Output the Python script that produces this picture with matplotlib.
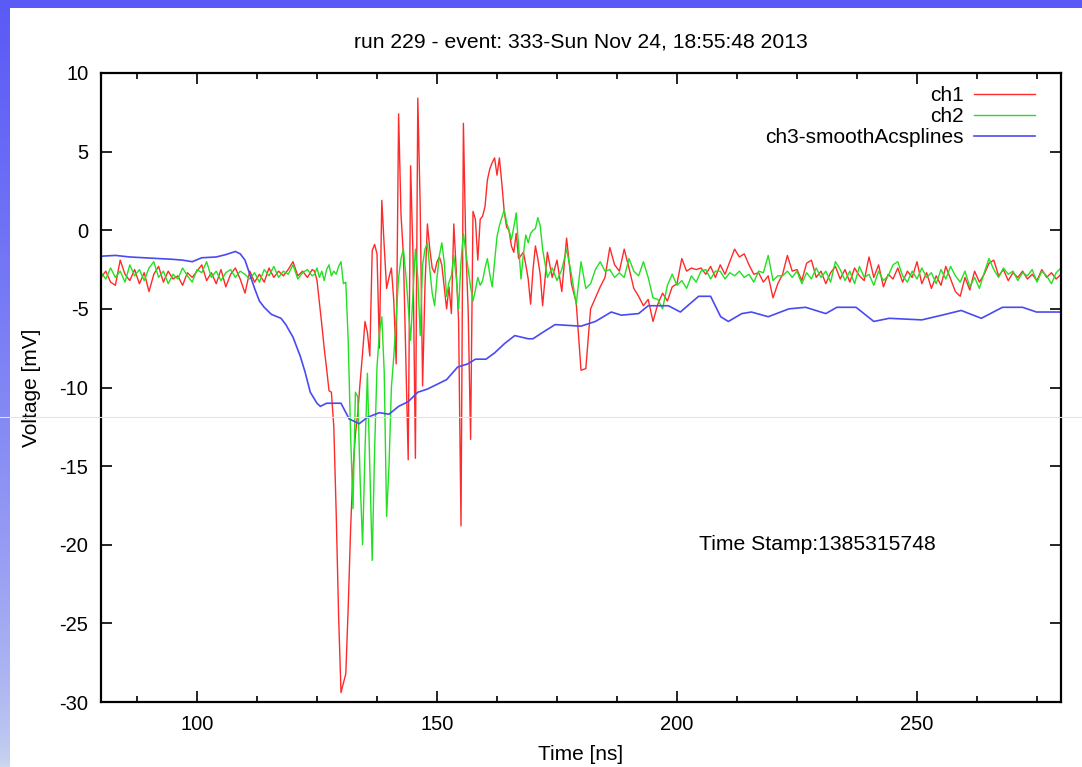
import numpy as np
import matplotlib
matplotlib.use("Agg")
import matplotlib.pyplot as plt
from matplotlib.ticker import MultipleLocator
from matplotlib.lines import Line2D

plt.rcParams['font.family'] = ['Liberation Sans', 'DejaVu Sans']
plt.rcParams['axes.unicode_minus'] = False

title = "run 229 - event: 333-Sun Nov 24, 18:55:48 2013"
stamp = "Time Stamp:1385315748"
labels = ["ch1", "ch2", "ch3-smoothAcsplines"]

# ---- ch1 (red) ----
ch1_pre = [-3.0, -2.6, -3.3, -3.5, -1.9, -2.8, -3.2, -2.5, -3.4, -2.7,
           -3.9, -2.8, -2.3, -3.3, -2.6, -3.1, -2.9, -3.5, -2.7, -3.0,
           -2.6, -2.2, -3.2, -2.7, -3.4, -2.5, -3.6, -2.8, -2.4, -3.1,
           -4.0, -2.6, -3.3, -2.8, -3.3, -2.4, -3.0, -2.6, -2.9, -2.5,
           -2.0, -2.9, -2.6, -3.0, -2.5]                      # 80..124 ns, 1 ns
ch1_sig = [-2.6, -3.2, -4.6, -6.0, -7.5, -8.8, -10.2, -10.3, -12.5, -18.0,
           -24.5, -29.4, -28.8, -28.2, -24.0, -19.0, -15.2, -13.0, -11.6, -9.6,
           -7.8, -5.8, -6.5, -8.0, -1.3, -0.9, -1.5, -7.5, 1.9, -1.0,
           -3.7, -3.0, -2.4, -4.5, -8.5, 7.4, 1.0, -1.6, -8.0, -14.6,
           4.1, -1.6, -14.5, 8.4, 1.5, -9.9, -3.5, 0.4, -1.2, -2.4,
           -2.7, -2.0, -1.7, -2.2, -3.6, -5.0, -3.6, -5.3, 0.4, -2.5,
           -5.8, -18.8, 6.8, -1.0, -5.2, -13.3, 1.2, 0.7, -1.9, 0.7,
           0.9, 1.5, 3.2, 3.9, 4.3, 4.6, 3.5, 4.6, 3.0, 1.2,
           0.2, 0.0, -1.0, -1.4, -0.2, -1.8, -1.6, -1.4, -2.2, -3.1,
           -4.7, -2.5, -1.0, -1.8, -2.8, -4.8]                # 124.5..172 ns, 0.5 ns
ch1_post = [-1.4, -3.0, -1.9, -3.9, -0.5, -3.4, -4.6, -8.9, -8.8, -5.0,
            -4.3, -3.6, -3.0, -1.1, -2.2, -2.6, -1.2, -2.4, -3.7, -4.2,
            -4.8, -4.4, -5.8, -4.7, -4.0, -4.5, -3.6, -3.4, -1.8, -2.6,
            -2.4, -2.5, -2.4, -2.8, -2.3, -3.0, -2.2, -2.8, -2.0, -1.2,
            -1.7, -1.5, -2.2, -2.8, -2.7, -3.3, -2.9, -4.3, -3.4, -2.8,
            -1.6, -2.6, -2.5,
            -3.2, -2.1, -1.9, -3.0, -2.6, -3.4, -2.7, -2.3, -3.1, -2.5,
            -3.3, -2.4, -2.9, -3.2, -1.7, -3.0, -2.2, -3.6, -2.8, -3.1,
            -2.4, -3.3, -2.6, -3.0, -2.0, -3.4, -2.7, -3.7, -2.9, -3.5,
            -2.3, -3.1, -3.9, -4.2, -3.0, -3.8, -2.6, -3.3, -2.8, -2.1,
            -1.9, -2.9, -2.5, -3.2, -2.7, -3.0, -2.6, -3.1, -2.8, -3.2,
            -2.5, -3.0, -2.7, -3.1, -2.8]                      # 173..280 ns, 1 ns

# ---- ch2 (green) ----
ch2_pre = [-2.7, -3.1, -2.4, -3.0, -2.6, -3.3, -2.2, -2.9, -2.5, -3.2,
           -2.4, -2.0, -3.0, -2.6, -3.4, -2.8, -3.1, -2.4, -2.9, -3.3,
           -2.5, -2.7, -2.0, -3.0, -2.6, -3.2, -2.7, -2.5, -3.0, -2.6,
           -2.8, -3.1, -2.7, -3.3, -2.5, -2.9, -2.3, -3.0, -2.6, -2.8,
           -2.2, -3.1, -2.7, -2.5, -2.9]
ch2_sig = [-2.8, -2.4, -3.0, -2.6, -3.2, -2.5, -2.2, -2.9, -2.6, -2.8,
           -2.3, -2.0, -3.4, -3.3, -7.0, -13.0, -17.7, -10.3, -10.6, -16.0,
           -20.0, -14.0, -9.1, -15.0, -21.0, -14.0, -8.7, -6.5, -5.5, -9.0,
           -18.2, -15.0, -10.0, -8.0, -5.5, -3.0, -1.8, -1.2, -2.8, -4.8,
           -7.0, -4.0, -1.2, -3.0, -6.7, -2.2, -1.2, -0.8, -2.5, -4.0,
           -4.8, -3.0, -1.6, -0.8, -2.0, -4.2, -3.3, -2.9, -1.6, -3.0,
           -5.0, -2.0, -0.2, -1.4, -2.5, -3.6, -4.5, -3.8, -3.0, -3.5,
           -3.2, -2.4, -1.8, -2.8, -3.6, -2.0, -0.4, 0.3, 0.8, 1.3,
           0.5, 0.0, -0.6, 0.2, 1.1, -1.0, -3.1, -1.5, -0.3, -0.8,
           -0.2, 0.0, 0.1, 0.8, 0.3, -1.2]
ch2_post = [-3.0, -2.4, -3.2, -2.5, -1.2, -2.8, -4.7, -2.0, -3.7, -3.4,
            -2.5, -2.0, -2.6, -2.5, -3.0, -2.7, -3.0, -1.8, -2.6, -2.9,
            -2.0, -3.0, -4.3, -4.4, -5.0, -3.5, -2.8, -3.5, -3.2, -3.7,
            -2.9, -3.3, -2.6, -2.5, -3.1, -2.6, -2.6, -3.1, -2.7, -2.9,
            -2.6, -3.0, -2.8, -3.3, -2.6, -2.7, -1.6, -3.2, -2.9, -2.9,
            -2.6, -3.0, -2.6,
            -3.4, -2.7, -3.1, -2.4, -3.0, -2.6, -3.3, -2.0, -2.5, -3.2,
            -2.6, -3.4, -2.3, -3.0, -2.8, -3.5, -2.6, -3.2, -2.9, -2.2,
            -2.0, -2.9, -3.3, -2.6, -3.1, -2.4, -3.0, -2.7, -3.4, -2.5,
            -3.1, -2.3, -2.9, -3.3, -2.6, -3.6, -3.0, -3.7, -2.7, -1.8,
            -2.5, -3.0, -2.4, -2.8, -2.6, -3.2, -2.7, -2.9, -2.5, -3.3,
            -2.6, -2.9, -3.4, -2.7, -2.4]

# ---- ch3 (blue, smoothed) ----
ch3_t = [80, 83, 86, 89, 92, 95, 97, 99, 101, 104, 106, 108, 109, 110, 111,
         112, 113, 114, 115.5, 117.5, 118.5, 120, 121.5, 122.5, 123.6, 125,
         125.7, 127, 130, 131.7, 133.8, 135.5, 138, 140, 142, 144, 146, 148,
         150, 152, 154.3, 156.4, 158, 160.2, 162, 164.1, 166.2, 169, 170, 172,
         174.6, 180, 183, 186.3, 188.4, 192, 194, 198.2, 200.7, 204.5, 207,
         209.1, 210.7, 213.5, 215.5, 219, 223.3, 226.8, 231, 233.3, 237.3,
         241, 244.2, 251, 255.2, 259.2, 263.4, 267.8, 272, 274.9, 280]
ch3_v = [-1.65, -1.6, -1.7, -1.75, -1.8, -1.85, -1.9, -2.0, -1.75, -1.7,
         -1.55, -1.35, -1.5, -1.9, -2.8, -3.7, -4.5, -4.9, -5.35, -5.6, -6.0,
         -6.8, -8.0, -9.0, -10.3, -11.0, -11.2, -11.0, -11.0, -12.0, -12.3,
         -11.9, -11.6, -11.7, -11.2, -10.9, -10.3, -10.1, -9.8, -9.5, -8.7,
         -8.5, -8.2, -8.2, -7.8, -7.2, -6.7, -6.9, -6.9, -6.5, -6.0, -6.1,
         -5.8, -5.2, -5.4, -5.3, -4.8, -4.8, -5.2, -4.2, -4.2, -5.5, -5.8,
         -5.3, -5.2, -5.5, -5.0, -4.9, -5.3, -4.9, -4.9, -5.8, -5.6, -5.7,
         -5.4, -5.1, -5.6, -4.9, -4.9, -5.2, -5.2]

pre_start, pre_step = 80.0, 1.0
sig_start, sig_step = 124.5, 0.5
post_start, post_step = 173.0, 1.0


def build(pre, sig, post):
    t = np.concatenate([pre_start + pre_step * np.arange(len(pre)),
                        sig_start + sig_step * np.arange(len(sig)),
                        post_start + post_step * np.arange(len(post))])
    return t, np.array(pre + sig + post, dtype=float)


t1, v1 = build(ch1_pre, ch1_sig, ch1_post)
t2, v2 = build(ch2_pre, ch2_sig, ch2_post)

W, H = 1082, 767
fig = plt.figure(figsize=(W / 100, H / 100), dpi=100)
fig.patch.set_facecolor('white')

# slide decoration: top band and left gradient strip
band = fig.add_axes([0, 1 - 8 / H, 1, 8 / H])
band.set_axis_off()
band.add_patch(plt.Rectangle((0, 0), 1, 1, color='#5a5af7', transform=band.transAxes))
strip = fig.add_axes([0, 0, 10 / W, 1])
strip.set_axis_off()
top_c = np.array([0x5a, 0x5a, 0xf7]) / 255
bot_c = np.array([0xcc, 0xd8, 0xf0]) / 255
frac = np.linspace(0, 1, 256)[:, None]
grad = (top_c[None, :] * (1 - frac) ** 0.6 + bot_c[None, :] * (1 - (1 - frac) ** 0.6))
strip.imshow(grad[:, None, :], aspect='auto', extent=[0, 1, 0, 1])

ax = fig.add_axes([101 / W, 65 / H, 960 / W, 629 / H])
ax.plot(t1, v1, color='#ff2a2a', lw=1.0, label=labels[0])
ax.plot(t2, v2, color='#22e022', lw=1.0, label=labels[1])
ax.plot(ch3_t, ch3_v, color='#4a4af2', lw=1.2, label=labels[2])

ax.set_xlim(80, 280)
ax.set_ylim(-30, 10)
ax.xaxis.set_major_locator(MultipleLocator(50))
ax.xaxis.set_minor_locator(MultipleLocator(12.5))
ax.yaxis.set_major_locator(MultipleLocator(5))
ax.tick_params(which='both', direction='in', top=True, right=True,
               labelsize=14.5, width=1.2, colors='black')
ax.tick_params(axis='y', pad=9)
ax.tick_params(axis='x', pad=9)
ax.tick_params(which='major', length=8)
ax.tick_params(which='minor', length=4)
for s in ax.spines.values():
    s.set_linewidth(1.6)

ax.set_xlabel("Time [ns]", fontsize=15, labelpad=8)
ax.set_ylabel("Voltage [mV]", fontsize=15, labelpad=13)
fig.text(581 / W, 1 - 42 / H, title, ha='center', va='center', fontsize=15.2)
ax.text(204.5, -20.0, stamp, ha='left', va='center', fontsize=15.2)

leg = ax.legend(loc='upper right', bbox_to_anchor=(0.99, 1.006), frameon=False,
                markerfirst=False, fontsize=15, handlelength=2.9,
                labelspacing=0.1, handletextpad=0.5, borderaxespad=0.4)

# faint horizontal line from the screenshot
fig.add_artist(Line2D([0, 1], [1 - 417 / H, 1 - 417 / H], color='#dfe2f0', lw=0.8,
                      transform=fig.transFigure))

fig.savefig("out.png", dpi=100)
